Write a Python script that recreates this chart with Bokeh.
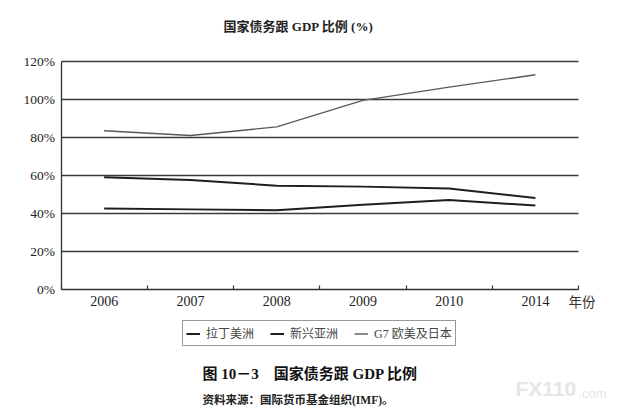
from bokeh.plotting import figure
from bokeh.models import (Range1d, FixedTicker, PrintfTickFormatter, Label, Legend, LegendItem)
from bokeh.embed import file_html
from bokeh.resources import INLINE

years = ["2006", "2007", "2008", "2009", "2010", "2014"]
latin_america = [59, 57.5, 54.5, 54, 53, 48]
emerging_asia = [42.5, 42, 41.5, 44.5, 47, 44]
g7 = [83.5, 81, 85.5, 99.5, 106.5, 113]
y_ticks = [0, 20, 40, 60, 80, 100, 120]
series_names = ["拉丁美洲", "新兴亚洲", "G7 欧美及日本"]

FONT = "'Liberation Serif', 'Noto Sans CJK SC'"

W, H = 620, 410
# page-pixel placement of the data area
X0_PX, X6_PX = 60.5, 578.0
Y0_PX, Y120_PX = 288.5, 61.0
PX_X = (X6_PX - X0_PX) / len(years)
PX_Y = (Y0_PX - Y120_PX) / 120.0

def dx(X):
    return (X - X0_PX) / PX_X

def dy(Y):
    return (Y0_PX - Y) / PX_Y

xs = [i + 0.5 for i in range(len(years))]

p = figure(width=W, height=H, output_backend="svg", toolbar_location=None,
           x_range=Range1d(dx(0), dx(W)), y_range=Range1d(dy(H), dy(0)),
           min_border=0, min_border_left=0, min_border_right=0,
           min_border_top=0, min_border_bottom=0)
p.outline_line_color = None
p.background_fill_color = "white"

r1 = p.line(xs, latin_america, line_color="#1e1e1e", line_width=2.0)
r2 = p.line(xs, emerging_asia, line_color="#1e1e1e", line_width=2.0)
r3 = p.line(xs, g7, line_color="#5a5a5a", line_width=1.4)

# x axis
xa = p.xaxis[0]
xa.fixed_location = 0
xa.bounds = (0, len(years))
xa.ticker = FixedTicker(ticks=xs, minor_ticks=list(range(len(years) + 1)))
xa.major_label_overrides = {x: y for x, y in zip(xs, years)}
xa.major_tick_in = 0
xa.major_tick_out = 0
xa.minor_tick_in = 4
xa.minor_tick_out = 0
xa.minor_tick_line_color = "#333333"
xa.minor_tick_line_width = 1.2
xa.axis_line_color = "#333333"
xa.axis_line_width = 1.3
xa.major_label_text_font = FONT
xa.major_label_text_font_size = "14px"
xa.major_label_text_color = "#222222"
xa.major_label_standoff = 7

# y axis
ya = p.yaxis[0]
ya.fixed_location = 0
ya.bounds = (0, 120)
ya.ticker = FixedTicker(ticks=y_ticks)
ya.formatter = PrintfTickFormatter(format="%d%%")
ya.major_tick_in = 0
ya.major_tick_out = 0
ya.minor_tick_line_color = None
ya.axis_line_color = "#333333"
ya.axis_line_width = 1.3
ya.major_label_text_font = FONT
ya.major_label_text_font_size = "13.5px"
ya.major_label_text_color = "#222222"
ya.major_label_standoff = 6

p.xgrid.grid_line_color = None
p.ygrid.ticker = FixedTicker(ticks=y_ticks[1:])
p.ygrid.cross_bounds = (0, len(years))
p.ygrid.grid_line_color = "#3a3a3a"
p.ygrid.grid_line_width = 1.3

def add_text(X, Y, text, size, bold=False, align="left", color="#222222", font=FONT):
    p.add_layout(Label(x=dx(X), y=dy(Y), text=text, text_font=font, text_font_size=size,
                       text_font_style="bold" if bold else "normal", text_align=align,
                       text_baseline="middle", text_color=color))

add_text(298, 26, "国家债务跟 GDP 比例 (%)", "13px", bold=True, align="center")
add_text(568, 302, "年份", "13.5px", color="#333333")
add_text(202, 373, "图 10－3　国家债务跟 GDP 比例", "15px", bold=True, color="#111111")
add_text(202, 399, "资料来源：国际货币基金组织(IMF)。", "11.5px", bold=True)
add_text(515, 388, "FX110", "21px", bold=True, color="#e6e6e6", font="'Liberation Sans'")
add_text(578, 393, ".com", "13px", color="#e6e6e6", font="'Liberation Sans'")

legend = Legend(items=[LegendItem(label=series_names[0], renderers=[r1]),
                       LegendItem(label=series_names[1], renderers=[r2]),
                       LegendItem(label=series_names[2], renderers=[r3])],
                orientation="horizontal", location=(182, H - 346),
                glyph_width=14, glyph_height=15, label_height=15, label_standoff=6,
                spacing=16, padding=3, margin=0,
                label_text_font=FONT, label_text_font_size="12px", label_text_color="#444444",
                border_line_color="#333333", border_line_width=1.2,
                background_fill_color="white", background_fill_alpha=1.0)
p.add_layout(legend, "center")

open("out.html", "w").write(file_html(p, INLINE))
